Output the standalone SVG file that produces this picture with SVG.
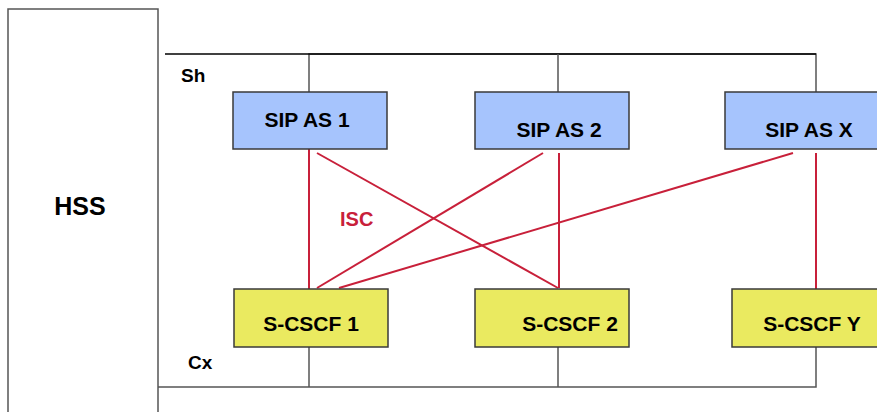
<svg xmlns="http://www.w3.org/2000/svg" width="877" height="412" viewBox="0 0 877 412">
<style>
text{font-family:"Liberation Sans",Arial,sans-serif;font-weight:bold;fill:#000}
.lbl{font-size:21px;text-anchor:middle}
.as{fill:#A6C4FD;stroke:#3a3a3a;stroke-width:1.5}
.cs{fill:#EAEA60;stroke:#3a3a3a;stroke-width:1.5}
.ref{stroke:#555;stroke-width:1.5;fill:none}
.isc{stroke:#C8203A;stroke-width:2;fill:none}
</style>
<rect width="877" height="412" fill="#fff"/>
<g id="connectors">
<polyline class="ref" points="309,92 309,54 816,54 816,92"/>
<line x1="165" y1="54" x2="816" y2="54" stroke="#000" stroke-width="1.5"/>
<line class="ref" x1="558" y1="54" x2="558" y2="92"/>
<polyline class="ref" points="158,387 816,387 816,347"/>
<line class="ref" x1="309" y1="347" x2="309" y2="387"/>
<line class="ref" x1="558" y1="347" x2="558" y2="387"/>
<line class="isc" x1="309" y1="149" x2="309" y2="289"/>
<line class="isc" x1="317" y1="153" x2="558" y2="288"/>
<line class="isc" x1="543" y1="153" x2="317" y2="288"/>
<line class="isc" x1="559" y1="153" x2="559" y2="288"/>
<line class="isc" x1="793" y1="153" x2="339" y2="288"/>
<line class="isc" x1="816" y1="153" x2="816" y2="289"/>
<text x="340" y="226" style="font-size:20px;fill:#C8203A">ISC</text>
<text x="181" y="82" style="font-size:19px">Sh</text>
<text x="188" y="369" style="font-size:19px">Cx</text>
</g>
<g id="hss">
<rect x="8" y="9" width="150" height="420" fill="#fff" stroke="#555" stroke-width="1.5"/>
<text x="80" y="215" style="font-size:25px;text-anchor:middle">HSS</text>
</g>
<g id="sipas1">
<rect class="as" x="233" y="92" width="154" height="57"/>
<text class="lbl" x="307" y="127">SIP AS 1</text>
</g>
<g id="sipas2">
<rect class="as" x="475" y="92" width="154" height="57"/>
<text class="lbl" x="559" y="137">SIP AS 2</text>
</g>
<g id="sipasx">
<rect class="as" x="725" y="92" width="160" height="57"/>
<text class="lbl" x="809" y="137">SIP AS X</text>
</g>
<g id="scscf1">
<rect class="cs" x="234" y="289" width="154" height="58"/>
<text class="lbl" x="311" y="331">S-CSCF 1</text>
</g>
<g id="scscf2">
<rect class="cs" x="475" y="289" width="154" height="58"/>
<text class="lbl" x="570" y="331">S-CSCF 2</text>
</g>
<g id="scscfy">
<rect class="cs" x="732" y="289" width="160" height="58"/>
<text class="lbl" x="812" y="331">S-CSCF Y</text>
</g>
</svg>
